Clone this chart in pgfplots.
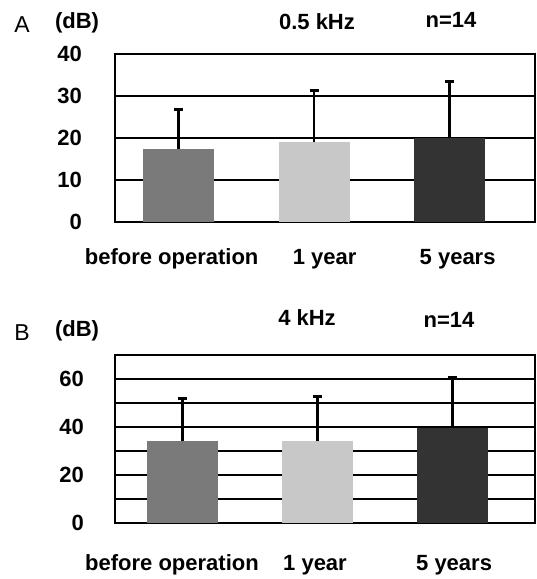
\documentclass[border=0pt]{standalone}
\usepackage{pgfplots}
\pgfplotsset{compat=1.18}
\usepackage{fontspec}
\setmainfont{Liberation Sans}
\definecolor{barA}{HTML}{7A7A7A}
\definecolor{barB}{HTML}{C8C8C8}
\definecolor{barC}{HTML}{333333}
\pgfplotsset{
  every error bar/.append style={line width=2.4pt, black},
  panel/.style={
    scale only axis, width=420pt, height=168pt, anchor=south west,
    ybar, bar width=71pt, ymin=0,
    axis line style={line width=1.8pt},
    major tick length=0pt, minor tick length=0pt,
    ymajorgrids, grid style={black, line width=1.8pt},
    yticklabel style={anchor=east, inner sep=0pt, font=\fontsize{22}{26}\selectfont\bfseries},
    xticklabel style={anchor=base, inner sep=0pt, font=\fontsize{22}{26}\selectfont\bfseries},
    /pgf/number format/assume math mode=true,
    error bars/y dir=plus, error bars/y explicit,
    error bars/error bar style={line width=2.4pt, black},
    error bars/error mark=|,
    error bars/error mark options={line width=2.8pt, mark size=4.5pt, black},
  },
  every axis plot/.append style={bar shift=0pt, draw=none},
}
\begin{document}
\begin{tikzpicture}
\useasboundingbox (0pt,0pt) rectangle (537pt,579pt);
% Panel A
\begin{axis}[panel, at={(115pt,357pt)},
  xmin=-0.47, xmax=2.63, ymax=40,
  ytick={0,10,20,30,40},
  yticklabel style={xshift=-33pt},
  xtick={-0.052,1.077,2.059},
  xticklabels={before operation,1 year,5 years},
  xticklabel style={yshift=-43pt},
]
\addplot[fill=barA] coordinates {(0,17.3) +- (0,9.5)};
\addplot[fill=barB] coordinates {(1,19) +- (0,12.4)};
\addplot[fill=barC] coordinates {(2,20) +- (0,13.4)};
\end{axis}
% Panel B
\begin{axis}[panel, at={(115pt,56pt)},
  xmin=-0.5, xmax=2.61, ymax=70,
  ytick={0,20,40,60}, minor ytick={10,30,50}, yminorgrids,
  minor grid style={black, line width=1.8pt},
  yticklabel style={xshift=-31pt},
  xtick={-0.078,0.981,2.011},
  xticklabels={before operation,1 year,5 years},
  xticklabel style={yshift=-47pt},
]
\addplot[fill=barA] coordinates {(0,34) +- (0,17.9)};
\addplot[fill=barB] coordinates {(1,34) +- (0,18.7)};
\addplot[fill=barC] coordinates {(2,39.5) +- (0,21.1)};
\end{axis}
\begin{scope}[every node/.style={font=\fontsize{23}{26}\selectfont}]
\node at (22pt,554pt) {A};
\node[font=\fontsize{22}{26}\selectfont\bfseries] at (77pt,556pt) {(dB)};
\node[font=\fontsize{22}{26}\selectfont\bfseries] at (317pt,557pt) {0.5 kHz};
\node[font=\fontsize{22}{26}\selectfont\bfseries] at (451pt,559pt) {n=14};
\node at (22pt,246pt) {B};
\node[font=\fontsize{22}{26}\selectfont\bfseries] at (77pt,248pt) {(dB)};
\node[font=\fontsize{22}{26}\selectfont\bfseries] at (307pt,261pt) {4 kHz};
\node[font=\fontsize{22}{26}\selectfont\bfseries] at (449pt,259pt) {n=14};
\end{scope}
\end{tikzpicture}
\end{document}
